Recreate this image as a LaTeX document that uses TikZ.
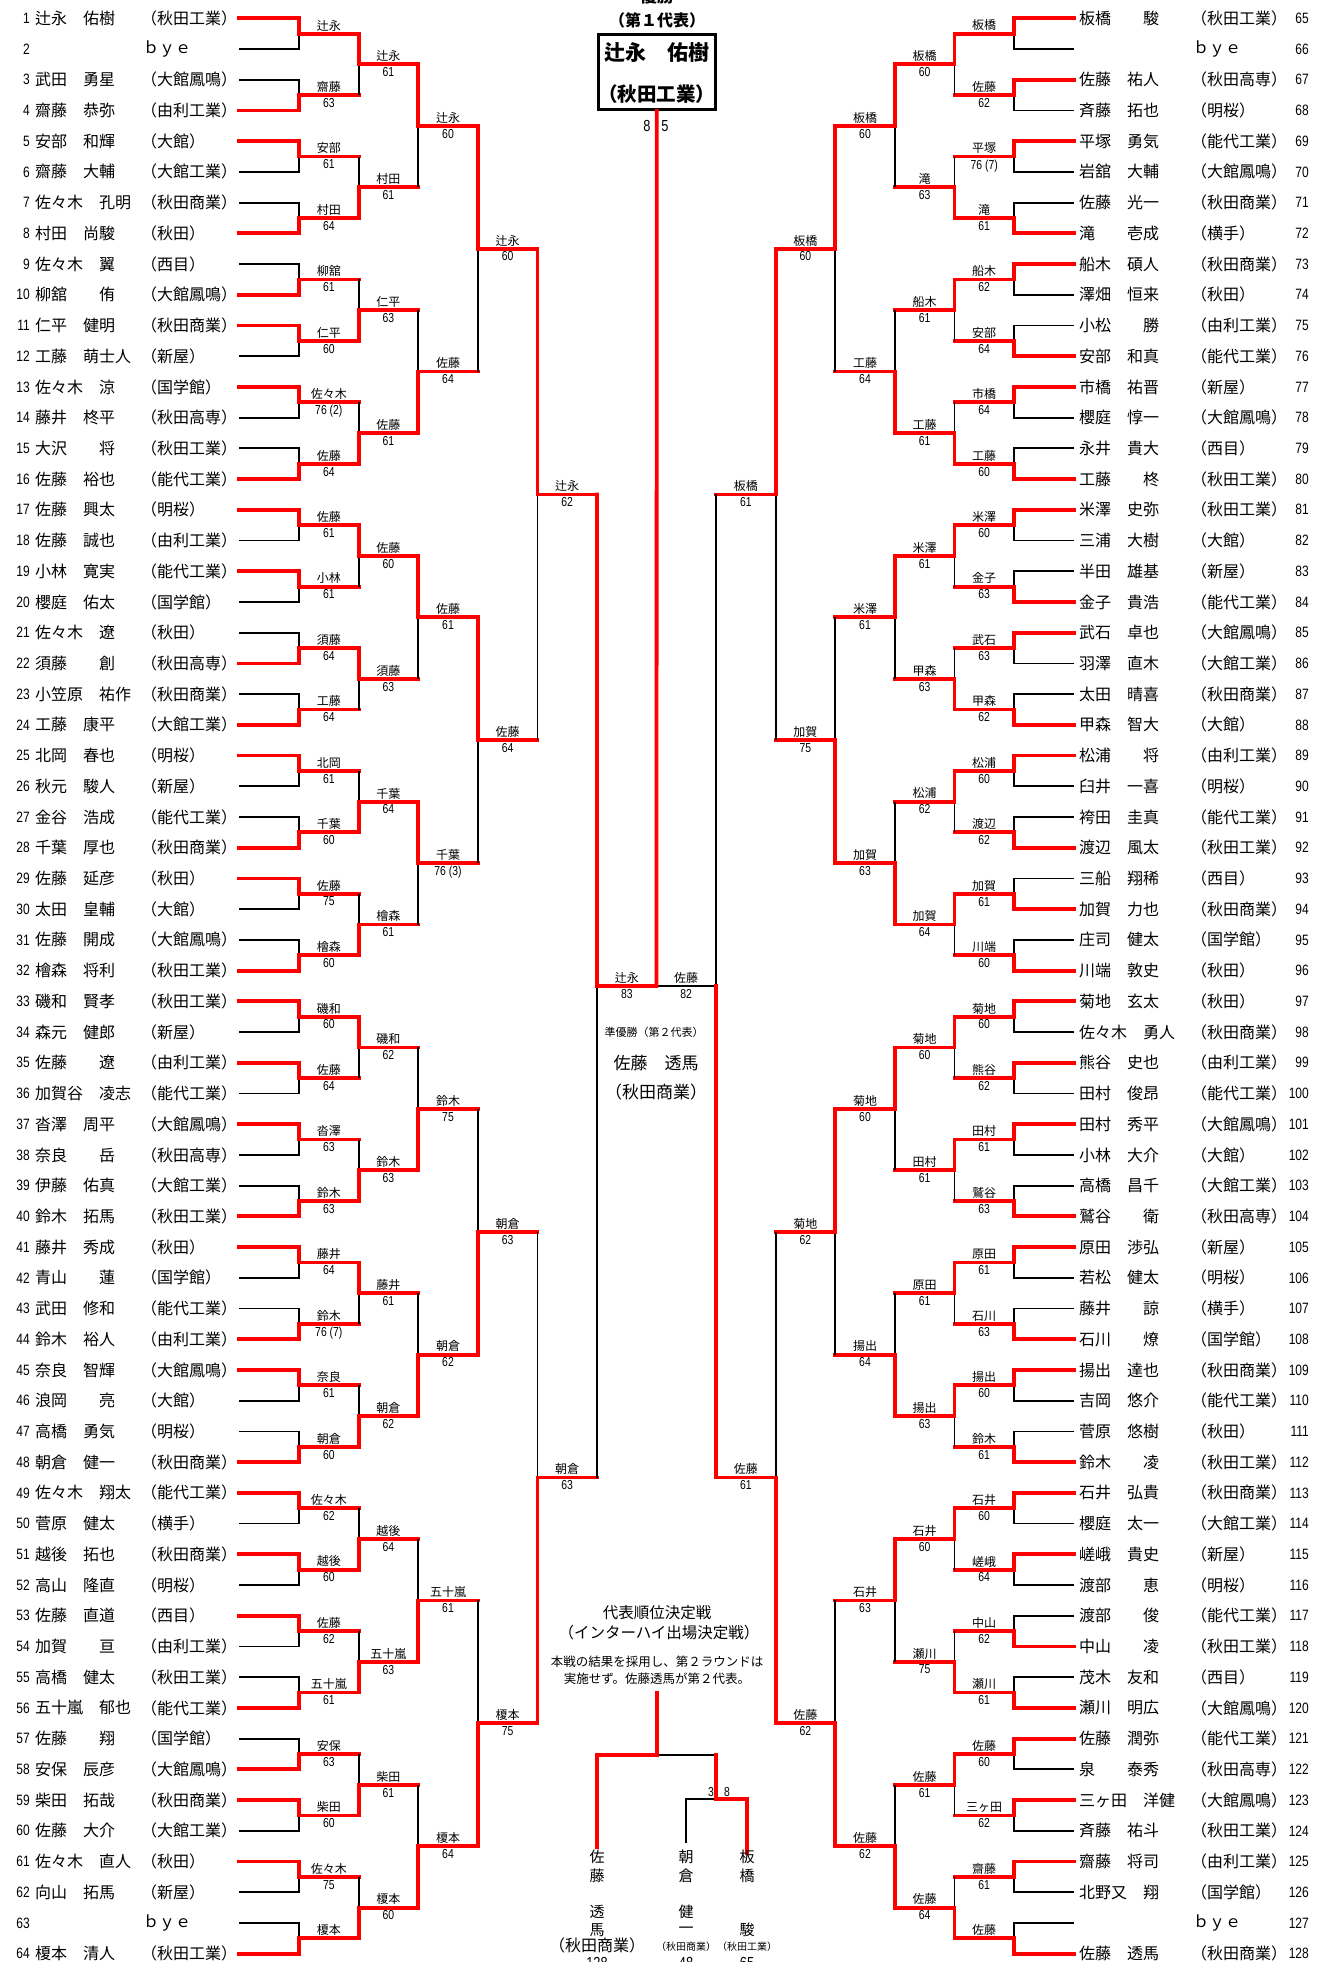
\documentclass[tikz,border=0pt]{standalone}
\usepackage{fontspec}
\setmainfont{Noto Sans CJK JP}
\newfontfamily\narrowfont{Liberation Sans}[FakeStretch=0.8]
\usetikzlibrary{calc}
\newcommand\Mt[7]{%
 \pgfmathsetmacro\mN{2^(#3)}%
 \pgfmathsetmacro\mH{2^(#3-1)}%
 \pgfmathsetmacro\mYt{18.3+(#4*\mN+(\mH-1)/2)*30.72}%
 \pgfmathsetmacro\mYb{\mYt+\mH*30.72}%
 \pgfmathsetmacro\mYr{(\mYt+\mYb)/2}%
 \pgfmathsetmacro\mXa{#1+#2*(#3-1)*59.6}%
 \pgfmathsetmacro\mXb{#1+#2*(#3)*59.6}%
 \pgfmathsetmacro\mXl{#1-#2*60}%
 \pgfmathsetmacro\mXm{(\mXa+\mXb)/2}%
 \ifnum#5=0 \let\mYw\mYt\let\mYl\mYb\else\let\mYw\mYb\let\mYl\mYt\fi
 \coordinate (w#1-#3-#4) at (\mXa,\mYw);
 \coordinate (l#1-#3-#4) at (\mXa,\mYl);
 \coordinate (r#1-#3-#4) at (\mXa,\mYr);
 \coordinate (e#1-#3-#4) at (\mXb,\mYr);
 \ifnum#3=1
   \coordinate (lw#1-#3-#4) at (\mXl,\mYw);
   \coordinate (ll#1-#3-#4) at (\mXl,\mYl);
   \draw[loseline] (ll#1-#3-#4) -- (l#1-#3-#4) -- (r#1-#3-#4);
   \draw[winline] (lw#1-#3-#4) -- (w#1-#3-#4) -- (r#1-#3-#4) -- (e#1-#3-#4);
 \else
   \draw[loseline] (l#1-#3-#4) -- (r#1-#3-#4);
   \draw[winline] (w#1-#3-#4) -- (r#1-#3-#4) -- (e#1-#3-#4);
 \fi
 \node[lab] (a#1-#3-#4) at (\mXm,\mYr-2.5) {#6};
 \node[scl] (b#1-#3-#4) at (\mXm,\mYr+3) {#7};
}
\begin{document}
\begin{tikzpicture}[x=1pt,y=-1pt,
 winline/.style={draw=red,line width=3.8pt,line cap=rect,line join=miter},
 loseline/.style={draw=black,line width=1.8pt},
 thinline/.style={draw=black,line width=1.3pt},
 pname/.style={anchor=west,inner sep=0pt,font=\fontsize{16}{16}\selectfont},
 pnumL/.style={anchor=east,inner sep=0pt,font=\narrowfont\fontsize{15}{15}\selectfont},
 lab/.style={anchor=south,inner sep=0pt,font=\fontsize{12}{12}\selectfont},
 scl/.style={anchor=north,inner sep=0pt,font=\narrowfont\fontsize{13}{13}\selectfont},
 ctext/.style={inner sep=0pt},
 vch/.style={inner sep=0pt,font=\fontsize{15}{15}\selectfont}]
\fill[white] (0,0) rectangle (1319,1962);
\useasboundingbox (0,0) rectangle (1319,1962);

% ---------- players left ----------
\foreach \k/\nm/\sch in {1/辻永　佑樹/秋田工業,3/武田　勇星/大館鳳鳴,4/齋藤　恭弥/由利工業,5/安部　和輝/大館,6/齋藤　大輔/大館工業,7/佐々木　孔明/秋田商業,8/村田　尚駿/秋田,9/佐々木　翼/西目,10/柳舘　　侑/大館鳳鳴,11/仁平　健明/秋田商業,12/工藤　萌士人/新屋,13/佐々木　涼/国学館,14/藤井　柊平/秋田高専,15/大沢　　将/秋田工業,16/佐藤　裕也/能代工業,17/佐藤　興太/明桜,18/佐藤　誠也/由利工業,19/小林　寛実/能代工業,20/櫻庭　佑太/国学館,21/佐々木　遼/秋田,22/須藤　　創/秋田高専,23/小笠原　祐作/秋田商業,24/工藤　康平/大館工業,25/北岡　春也/明桜,26/秋元　駿人/新屋,27/金谷　浩成/能代工業,28/千葉　厚也/秋田商業,29/佐藤　延彦/秋田,30/太田　皇輔/大館,31/佐藤　開成/大館鳳鳴,32/檜森　将利/秋田工業,33/磯和　賢孝/秋田工業,34/森元　健郎/新屋,35/佐藤　　遼/由利工業,36/加賀谷　凌志/能代工業,37/沓澤　周平/大館鳳鳴,38/奈良　　岳/秋田高専,39/伊藤　佑真/大館工業,40/鈴木　拓馬/秋田工業,41/藤井　秀成/秋田,42/青山　　蓮/国学館,43/武田　修和/能代工業,44/鈴木　裕人/由利工業,45/奈良　智輝/大館鳳鳴,46/浪岡　　亮/大館,47/高橋　勇気/明桜,48/朝倉　健一/秋田商業,49/佐々木　翔太/能代工業,50/菅原　健太/横手,51/越後　拓也/秋田商業,52/高山　隆直/明桜,53/佐藤　直道/西目,54/加賀　　亘/由利工業,55/高橋　健太/秋田工業,56/五十嵐　郁也/能代工業,57/佐藤　　翔/国学館,58/安保　辰彦/大館鳳鳴,59/柴田　拓哉/秋田商業,60/佐藤　大介/大館工業,61/佐々木　直人/秋田,62/向山　拓馬/新屋,64/榎本　清人/秋田工業}{
  \pgfmathsetmacro\yy{18.3+(\k-1)*30.72}
  \node[pname] (P\k) at (35,\yy) {\nm};
  \node[pname] (S\k) at (141,\yy) {（\sch）};
}
\node[pname] (S2) at (143,{18.3+1*30.72}) {ｂｙｅ};
\node[pname] (S63) at (143,{18.3+62*30.72}) {ｂｙｅ};
\foreach \k in {1,...,64}{
  \pgfmathsetmacro\yy{18.3+(\k-1)*30.72}
  \node[pnumL] (N\k) at (30,\yy) {\k};
}

% ---------- players right ----------
\foreach \k/\nm/\sch in {65/板橋　　駿/秋田工業,67/佐藤　祐人/秋田高専,68/斉藤　拓也/明桜,69/平塚　勇気/能代工業,70/岩舘　大輔/大館鳳鳴,71/佐藤　光一/秋田商業,72/滝　　壱成/横手,73/船木　碩人/秋田商業,74/澤畑　恒来/秋田,75/小松　　勝/由利工業,76/安部　和真/能代工業,77/市橋　祐晋/新屋,78/櫻庭　惇一/大館鳳鳴,79/永井　貴大/西目,80/工藤　　柊/秋田工業,81/米澤　史弥/秋田工業,82/三浦　大樹/大館,83/半田　雄基/新屋,84/金子　貴浩/能代工業,85/武石　卓也/大館鳳鳴,86/羽澤　直木/大館工業,87/太田　晴喜/秋田商業,88/甲森　智大/大館,89/松浦　　将/由利工業,90/臼井　一喜/明桜,91/袴田　圭真/能代工業,92/渡辺　風太/秋田工業,93/三船　翔稀/西目,94/加賀　力也/秋田商業,95/庄司　健太/国学館,96/川端　敦史/秋田,97/菊地　玄太/秋田,98/佐々木　勇人/秋田商業,99/熊谷　史也/由利工業,100/田村　俊昂/能代工業,101/田村　秀平/大館鳳鳴,102/小林　大介/大館,103/高橋　昌千/大館工業,104/鷲谷　　衛/秋田高専,105/原田　渉弘/新屋,106/若松　健太/明桜,107/藤井　　諒/横手,108/石川　　燎/国学館,109/揚出　達也/秋田商業,110/吉岡　悠介/能代工業,111/菅原　悠樹/秋田,112/鈴木　　凌/秋田工業,113/石井　弘貴/秋田商業,114/櫻庭　太一/大館工業,115/嵯峨　貴史/新屋,116/渡部　　恵/明桜,117/渡部　　俊/能代工業,118/中山　　凌/秋田工業,119/茂木　友和/西目,120/瀬川　明広/大館鳳鳴,121/佐藤　潤弥/能代工業,122/泉　　泰秀/秋田高専,123/三ヶ田　洋健/大館鳳鳴,124/斉藤　祐斗/秋田工業,125/齋藤　将司/由利工業,126/北野又　翔/国学館,128/佐藤　透馬/秋田商業}{
  \pgfmathsetmacro\yy{18.3+(\k-65)*30.72}
  \node[pname] (P\k) at (1079,\yy) {\nm};
  \node[pname] (S\k) at (1191,\yy) {（\sch）};
}
\node[pname] (S66) at (1193,{18.3+1*30.72}) {ｂｙｅ};
\node[pname] (S127) at (1193,{18.3+62*30.72}) {ｂｙｅ};
\foreach \k in {65,...,128}{
  \pgfmathsetmacro\yy{18.3+(\k-65)*30.72}
  \node[pnumL] (N\k) at (1309,\yy) {\k};
}

% ---------- left bracket ----------
\foreach \ww/\wn/\ws [count=\m from 0] in {0/辻永/{},1/齋藤/63,0/安部/61,1/村田/64,1/柳舘/61,0/仁平/60,0/佐々木/76 (2),1/佐藤/64,0/佐藤/61,0/小林/61,1/須藤/64,1/工藤/64,0/北岡/61,1/千葉/60,0/佐藤/75,1/檜森/60,0/磯和/60,0/佐藤/64,0/沓澤/63,1/鈴木/63,0/藤井/64,1/鈴木/76 (7),0/奈良/61,1/朝倉/60,0/佐々木/62,0/越後/60,0/佐藤/62,1/五十嵐/61,1/安保/63,0/柴田/60,0/佐々木/75,1/榎本/{}}{\Mt{299}{1}{1}{\m}{\ww}{\wn}{\ws}}
\foreach \ww/\wn/\ws [count=\m from 0] in {0/辻永/61,1/村田/61,1/仁平/63,1/佐藤/61,0/佐藤/60,0/須藤/63,1/千葉/64,1/檜森/61,0/磯和/62,1/鈴木/63,0/藤井/61,1/朝倉/62,1/越後/64,1/五十嵐/63,1/柴田/61,1/榎本/60}{\Mt{299}{1}{2}{\m}{\ww}{\wn}{\ws}}
\foreach \ww/\wn/\ws [count=\m from 0] in {0/辻永/60,1/佐藤/64,0/佐藤/61,0/千葉/76 (3),1/鈴木/75,1/朝倉/62,1/五十嵐/61,1/榎本/64}{\Mt{299}{1}{3}{\m}{\ww}{\wn}{\ws}}
\foreach \ww/\wn/\ws [count=\m from 0] in {0/辻永/60,0/佐藤/64,1/朝倉/63,1/榎本/75}{\Mt{299}{1}{4}{\m}{\ww}{\wn}{\ws}}
\foreach \ww/\wn/\ws [count=\m from 0] in {0/辻永/62,1/朝倉/63}{\Mt{299}{1}{5}{\m}{\ww}{\wn}{\ws}}

% ---------- right bracket ----------
\foreach \ww/\wn/\ws [count=\m from 0] in {0/板橋/{},0/佐藤/62,0/平塚/76 (7),1/滝/61,0/船木/62,1/安部/64,0/市橋/64,1/工藤/60,0/米澤/60,1/金子/63,0/武石/63,1/甲森/62,0/松浦/60,1/渡辺/62,1/加賀/61,1/川端/60,0/菊地/60,0/熊谷/62,0/田村/61,1/鷲谷/63,0/原田/61,1/石川/63,0/揚出/60,1/鈴木/61,0/石井/60,0/嵯峨/64,1/中山/62,1/瀬川/61,0/佐藤/60,0/三ヶ田/62,0/齋藤/61,1/佐藤/{}}{\Mt{1014}{-1}{1}{\m}{\ww}{\wn}{\ws}}
\foreach \ww/\wn/\ws [count=\m from 0] in {0/板橋/60,1/滝/63,0/船木/61,1/工藤/61,0/米澤/61,1/甲森/63,0/松浦/62,0/加賀/64,0/菊地/60,0/田村/61,0/原田/61,0/揚出/63,0/石井/60,1/瀬川/75,0/佐藤/61,1/佐藤/64}{\Mt{1014}{-1}{2}{\m}{\ww}{\wn}{\ws}}
\foreach \ww/\wn/\ws [count=\m from 0] in {0/板橋/60,1/工藤/64,0/米澤/61,1/加賀/63,0/菊地/60,1/揚出/64,0/石井/63,1/佐藤/62}{\Mt{1014}{-1}{3}{\m}{\ww}{\wn}{\ws}}
\foreach \ww/\wn/\ws [count=\m from 0] in {0/板橋/60,1/加賀/75,0/菊地/62,1/佐藤/62}{\Mt{1014}{-1}{4}{\m}{\ww}{\wn}{\ws}}
\foreach \ww/\wn/\ws [count=\m from 0] in {0/板橋/61,1/佐藤/61}{\Mt{1014}{-1}{5}{\m}{\ww}{\wn}{\ws}}

% ---------- champion box ----------
\node[draw,line width=3pt,minimum width=116.5pt,minimum height=75.5pt,inner sep=0pt] (champ) at (656.75,71.75) {};
\node[ctext,font=\bfseries\fontsize{17}{17}\selectfont] (yusho) at (657,-4) {優勝};
\node[ctext,font=\bfseries\fontsize{16}{16}\selectfont] (dai1) at (657,20) {（第１代表）};
\node[ctext,font=\bfseries\fontsize{21}{21}\selectfont] (cname) at (656.5,53) {辻永　佑樹};
\node[ctext,font=\bfseries\fontsize{19.5}{19.5}\selectfont] (cschool) at (656.5,94) {（秋田工業）};
\node[ctext,font=\narrowfont\fontsize{16}{16}\selectfont] (f8) at (647,126) {8};
\node[ctext,font=\narrowfont\fontsize{16}{16}\selectfont] (f5) at (665,126) {5};

% ---------- final ----------
\coordinate (FLt) at (597,494.46);
\coordinate (FLb) at (597,1477.5);
\coordinate (FLm) at (597,985.98);
\coordinate (FRt) at (716,494.46);
\coordinate (FRb) at (716,1477.5);
\coordinate (FRm) at (716,985.98);
\coordinate (FC) at (656.5,985.98);
\draw[loseline] (FLm) -- (FLb);
\draw[loseline] (FRt) -- (FRm) -- (FC);
\draw[winline] (FRb) -- (FRm);
\draw[winline] (FLt) -- (FLm) -- (FC) -- (champ.south);
\node[lab] (fl1) at (626.8,983.5) {辻永};
\node[scl] (fl2) at (626.8,989) {83};
\node[lab] (fr1) at (686.2,983.5) {佐藤};
\node[scl] (fr2) at (686.2,989) {82};

% ---------- runner-up ----------
\node[ctext,font=\fontsize{11}{11}\selectfont] (ru1) at (654,1032) {準優勝（第２代表）};
\node[ctext,font=\fontsize{17}{17}\selectfont] (ru2) at (656,1063) {佐藤　透馬};
\node[ctext,font=\fontsize{17}{17}\selectfont] (ru3) at (656,1092) {（秋田商業）};

% ---------- 代表順位決定戦 ----------
\node[ctext,font=\fontsize{15.5}{15.5}\selectfont] (d1) at (657,1613) {代表順位決定戦};
\node[ctext,font=\fontsize{15.5}{15.5}\selectfont] (d2) at (659,1633) {（インターハイ出場決定戦）};
\node[ctext,font=\fontsize{12.5}{12.5}\selectfont] (d3) at (657,1662) {本戦の結果を採用し、第２ラウンドは};
\node[ctext,font=\fontsize{12.5}{12.5}\selectfont] (d4) at (657,1679) {実施せず。佐藤透馬が第２代表。};

\coordinate (b0) at (657,1693);
\coordinate (b1) at (657,1755);
\coordinate (b2) at (597,1755);
\coordinate (b3) at (597,1847);
\coordinate (b4) at (716,1755);
\coordinate (b5) at (716,1799);
\coordinate (b6) at (747,1799);
\coordinate (b7) at (747,1853);
\coordinate (b8) at (686,1799);
\coordinate (b9) at (686,1843);
\draw[loseline] (b1) -- (b4);
\draw[thinline] (b5) -- (b8) -- (b9);
\draw[winline] (b0) -- (b1) -- (b2) -- (b3);
\draw[winline] (b4) -- (b5) -- (b6) -- (b7);
\node[ctext,font=\narrowfont\fontsize{13}{13}\selectfont] (s3) at (711,1792) {3};
\node[ctext,font=\narrowfont\fontsize{13}{13}\selectfont] (s8) at (727,1792) {8};

\foreach \c [count=\i from 0] in {佐,藤,{},透,馬}{\node[vch] (va\i) at (597,{1857+\i*18.3}) {\c};}
\foreach \c [count=\i from 0] in {朝,倉,{},健,一}{\node[vch] (vb\i) at (686,{1857+\i*18.3}) {\c};}
\foreach \c [count=\i from 0] in {板,橋,{},{},駿}{\node[vch] (vc\i) at (747,{1857+\i*18.3}) {\c};}
\node[ctext,font=\fontsize{16}{16}\selectfont] (vas) at (597,1945) {（秋田商業）};
\node[ctext,font=\fontsize{10}{10}\selectfont] (vbs) at (686,1947) {（秋田商業）};
\node[ctext,font=\fontsize{10}{10}\selectfont] (vcs) at (747,1947) {（秋田工業）};
\node[ctext,font=\narrowfont\fontsize{16}{16}\selectfont] (van) at (597,1963) {128};
\node[ctext,font=\narrowfont\fontsize{16}{16}\selectfont] (vbn) at (686,1963) {48};
\node[ctext,font=\narrowfont\fontsize{16}{16}\selectfont] (vcn) at (747,1963) {65};
\end{tikzpicture}
\end{document}
